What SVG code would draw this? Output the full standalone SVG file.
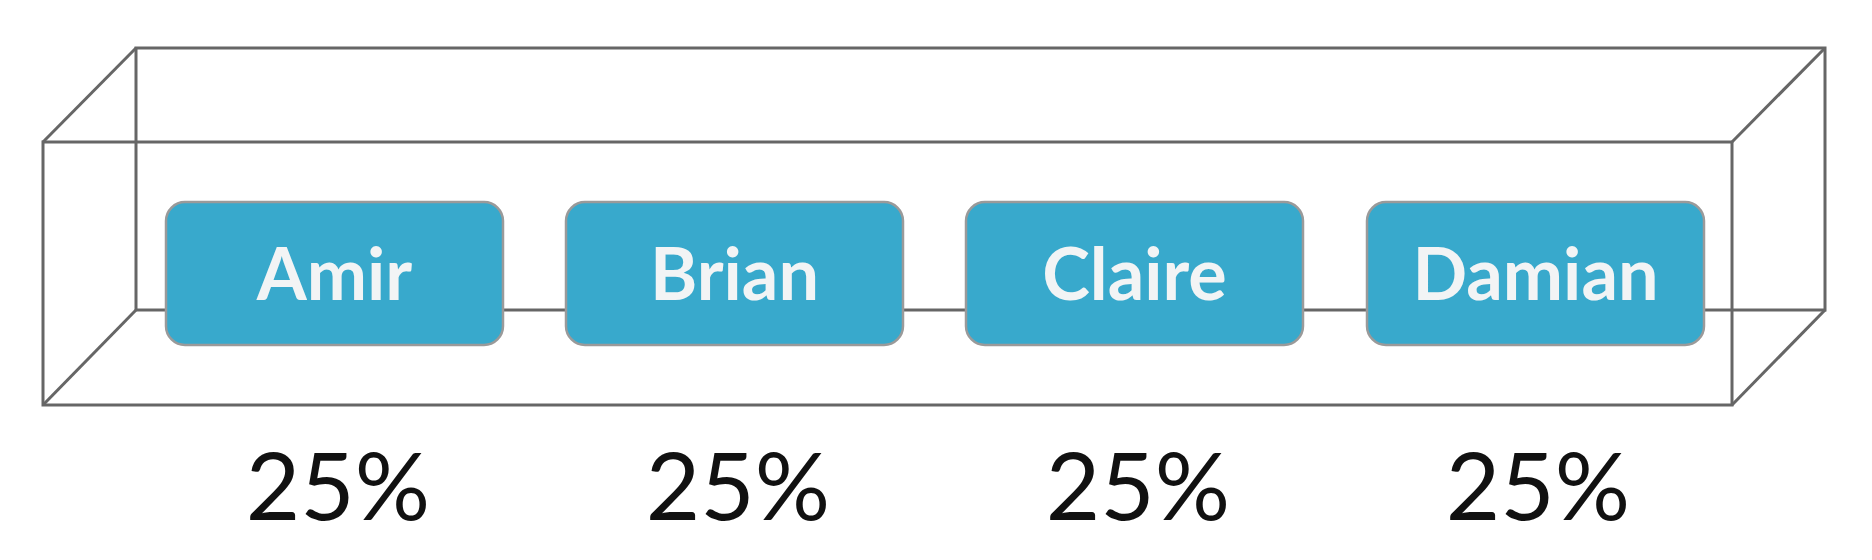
<svg xmlns="http://www.w3.org/2000/svg" width="1872" height="560" viewBox="0 0 1872 560">
<style>
.edge{fill:none;stroke:#666666;stroke-width:3;stroke-linejoin:miter}
.box{fill:#38a9cc;stroke:#9a9a9a;stroke-width:2.5}
.name{font-family:Lato,"Liberation Sans",sans-serif;font-weight:bold;font-size:72px;fill:#f2f4f5;text-anchor:middle}
.pct{font-family:Lato,"Liberation Sans",sans-serif;font-size:94px;fill:#111111;text-anchor:middle}
</style>
<rect width="1872" height="560" fill="#ffffff"/>
<g id="connectors">
<rect class="edge" x="136" y="48" width="1689" height="262"/>
<rect class="edge" x="43" y="142" width="1689" height="263"/>
<line class="edge" x1="43" y1="142" x2="136" y2="48"/>
<line class="edge" x1="1732" y1="142" x2="1825" y2="48"/>
<line class="edge" x1="43" y1="405" x2="136" y2="310"/>
<line class="edge" x1="1732" y1="405" x2="1825" y2="310"/>
</g>
<g id="amir">
<rect class="box" x="166" y="202" width="337" height="143" rx="19"/>
<text class="name" x="334.5" y="300">Amir</text>
<text class="pct" x="338" y="520">25%</text>
</g>
<g id="brian">
<rect class="box" x="566" y="202" width="337" height="143" rx="19"/>
<text class="name" x="734.5" y="300">Brian</text>
<text class="pct" x="738" y="520">25%</text>
</g>
<g id="claire">
<rect class="box" x="966" y="202" width="337" height="143" rx="19"/>
<text class="name" x="1134.5" y="300">Claire</text>
<text class="pct" x="1138" y="520">25%</text>
</g>
<g id="damian">
<rect class="box" x="1367" y="202" width="337" height="143" rx="19"/>
<text class="name" x="1535.5" y="300">Damian</text>
<text class="pct" x="1538" y="520">25%</text>
</g>
</svg>
